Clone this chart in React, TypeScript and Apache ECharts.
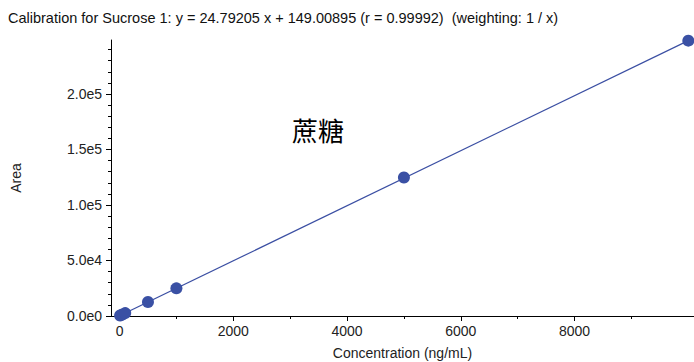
import React, { useEffect, useRef } from "react";
import * as echarts from "echarts";

const titleText =
  "Calibration for Sucrose 1: y = 24.79205 x + 149.00895 (r = 0.99992)  (weighting: 1 / x)";
const concentrations = [10, 50, 100, 500, 1000, 5000, 10000];
const areas = [400, 1390, 2630, 12550, 24900, 124800, 248000];
const fitX = [10, 10000];
const fitY = [397, 248069];
const xMajorTicks = [0, 2000, 4000, 6000, 8000];
const xMinorTicks = [1000, 3000, 5000, 7000, 9000];
const yMajorTicks = [0, 50000, 100000, 150000, 200000];
const yMinorTicks = [
  10000, 20000, 30000, 40000, 60000, 70000, 80000, 90000, 110000, 120000, 130000, 140000,
  160000, 170000, 180000, 190000, 210000, 220000, 230000, 240000,
];
const annotation = "蔗糖";

const X_MIN = -150;
const X_MAX = 10100;
const Y_MIN = 0;
const Y_MAX = 248600;

const FONT = "'Liberation Sans', Arial, Helvetica, sans-serif";

export default function App() {
  const ref = useRef<HTMLDivElement>(null);
  useEffect(() => {
    if (!ref.current) return;
    const chart = echarts.init(ref.current, undefined, { renderer: "svg" });
    const axisLineStyle = { color: "#000", width: 1 };
    const fmtY = (v: number) => v.toExponential(1).replace("e+", "e");
    chart.setOption({
      animation: false,
      backgroundColor: "#ffffff",
      grid: {
        left: 111,
        right: 0,
        top: 40,
        bottom: 46,
        containLabel: false,
        outerBoundsMode: "none",
      },
      xAxis: [
        {
          type: "value",
          min: X_MIN,
          max: X_MAX,
          name: "Concentration (ng/mL)",
          nameLocation: "middle",
          nameGap: 30,
          nameTextStyle: { fontFamily: FONT, fontSize: 14, color: "#222" },
          axisLine: { show: true, onZero: false, lineStyle: axisLineStyle },
          axisTick: { show: true, length: 5, customValues: xMajorTicks, lineStyle: axisLineStyle },
          axisLabel: {
            customValues: xMajorTicks,
            fontFamily: FONT,
            fontSize: 14,
            color: "#222",
            margin: 8,
            formatter: (v: number) => String(v),
          },
          splitLine: { show: false },
        },
        {
          type: "value",
          min: X_MIN,
          max: X_MAX,
          position: "bottom",
          offset: 0,
          axisLine: { show: false, onZero: false },
          axisTick: { show: true, length: 3, customValues: xMinorTicks, lineStyle: axisLineStyle },
          axisLabel: { show: false },
          splitLine: { show: false },
        },
      ],
      yAxis: [
        {
          type: "value",
          min: Y_MIN,
          max: Y_MAX,
          name: "Area",
          nameLocation: "middle",
          nameGap: 88,
          nameTextStyle: { fontFamily: FONT, fontSize: 14, color: "#222" },
          axisLine: { show: true, onZero: false, lineStyle: axisLineStyle },
          axisTick: { show: true, length: 5, customValues: yMajorTicks, lineStyle: axisLineStyle },
          axisLabel: {
            customValues: yMajorTicks,
            fontFamily: FONT,
            fontSize: 14,
            color: "#222",
            margin: 9,
            formatter: fmtY,
          },
          splitLine: { show: false },
        },
        {
          type: "value",
          min: Y_MIN,
          max: Y_MAX,
          position: "left",
          offset: 0,
          axisLine: { show: false, onZero: false },
          axisTick: { show: true, length: 3, customValues: yMinorTicks, lineStyle: axisLineStyle },
          axisLabel: { show: false },
          splitLine: { show: false },
        },
      ],
      graphic: [
        {
          type: "text",
          x: 8,
          y: 18,
          style: {
            text: titleText,
            font: `14.5px ${FONT}`,
            fill: "#111",
            verticalAlign: "middle",
          },
        },
        {
          type: "text",
          left: 292,
          top: 116,
          style: {
            text: annotation,
            font: "26px 'Noto Sans CJK SC', sans-serif",
            fill: "#000",
          },
        },
      ],
      series: [
        {
          type: "line",
          data: fitX.map((x, i) => [x, fitY[i]]),
          showSymbol: false,
          symbol: "none",
          lineStyle: { color: "#3b4fa3", width: 1.2 },
          z: 2,
        },
        {
          type: "scatter",
          data: concentrations.map((x, i) => [x, areas[i]]),
          symbolSize: 12,
          itemStyle: { color: "#3a50a4", opacity: 1 },
          z: 3,
        },
      ],
    });
    return () => chart.dispose();
  }, []);
  return <div ref={ref} style={{ width: 694, height: 362, position: "absolute", left: 0, top: 0 }} />;
}
